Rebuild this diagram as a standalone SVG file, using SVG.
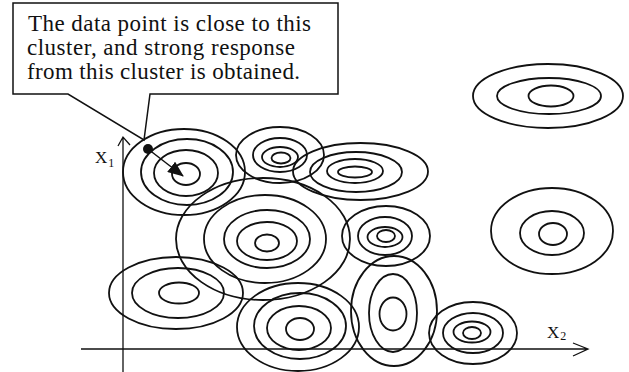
<svg xmlns="http://www.w3.org/2000/svg" width="629" height="372" viewBox="0 0 629 372">
<style>
  .ring { fill: none; stroke: #111; stroke-width: 1.8; }
  .axis { fill: none; stroke: #111; stroke-width: 1.3; }
  .lbl { font-family: "Liberation Serif", "Times New Roman", serif; fill: #111; }
  .call { font-family: "Liberation Serif", "Times New Roman", serif; font-size: 23px; fill: #111; }
</style>
<defs>
  <marker id="tri" viewBox="0 0 16 13" refX="15" refY="6.5" markerWidth="16" markerHeight="13" markerUnits="userSpaceOnUse" orient="auto">
    <path d="M0,0 L16,6.5 L0,13 Z" fill="#111"/>
  </marker>
</defs>
<rect width="629" height="372" fill="#fff"/>

<g id="axes">
  <path class="axis" d="M123,372 V137 M118,146 L123,137 L130,145"/>
  <path class="axis" d="M81,349 H588 M573,343 L588,349 L573,356"/>
  <text class="lbl" x="95" y="163" font-size="17">X<tspan font-size="12" dx="1" dy="4">1</tspan></text>
  <text class="lbl" x="547" y="338" font-size="17">X<tspan font-size="12" dx="1" dy="2">2</tspan></text>
</g>

<g id="clusterA">
  <ellipse class="ring" cx="184" cy="172" rx="61" ry="43"/>
  <ellipse class="ring" cx="187" cy="172" rx="46" ry="33"/>
  <ellipse class="ring" cx="186" cy="173" rx="32" ry="23"/>
  <ellipse class="ring" cx="186" cy="174" rx="14" ry="11"/>
</g>
<g id="clusterB">
  <ellipse class="ring" cx="280" cy="155" rx="44" ry="28"/>
  <ellipse class="ring" cx="280" cy="155" rx="27" ry="17"/>
  <ellipse class="ring" cx="280" cy="157" rx="18" ry="10"/>
  <ellipse class="ring" cx="281" cy="158" rx="9.5" ry="5.5"/>
</g>
<g id="clusterC">
  <ellipse class="ring" cx="360.5" cy="171.5" rx="67.5" ry="28.5"/>
  <ellipse class="ring" cx="356" cy="172" rx="46" ry="20"/>
  <ellipse class="ring" cx="355" cy="171" rx="28" ry="12"/>
  <ellipse class="ring" cx="355" cy="172" rx="17" ry="5.5"/>
</g>
<g id="clusterD">
  <ellipse class="ring" cx="263" cy="239" rx="87" ry="61"/>
  <ellipse class="ring" cx="265" cy="239" rx="61" ry="44"/>
  <ellipse class="ring" cx="267" cy="239" rx="43" ry="29"/>
  <ellipse class="ring" cx="267" cy="241" rx="30" ry="19"/>
  <ellipse class="ring" cx="267" cy="243" rx="12" ry="8.5"/>
</g>
<g id="clusterE">
  <ellipse class="ring" cx="386" cy="236" rx="44" ry="30"/>
  <ellipse class="ring" cx="385" cy="236" rx="27" ry="19"/>
  <ellipse class="ring" cx="385" cy="237" rx="17.5" ry="10"/>
  <ellipse class="ring" cx="386" cy="236" rx="9" ry="6"/>
</g>
<g id="clusterF">
  <ellipse class="ring" cx="176" cy="293" rx="67" ry="36"/>
  <ellipse class="ring" cx="178" cy="293" rx="46" ry="25"/>
  <ellipse class="ring" cx="179" cy="293" rx="20" ry="10.5"/>
</g>
<g id="clusterG">
  <ellipse class="ring" cx="298" cy="327" rx="61" ry="44"/>
  <ellipse class="ring" cx="300" cy="326" rx="46" ry="33"/>
  <ellipse class="ring" cx="299" cy="328" rx="32" ry="22"/>
  <ellipse class="ring" cx="300" cy="329" rx="14" ry="11"/>
</g>
<g id="clusterH">
  <ellipse class="ring" cx="394" cy="311" rx="43" ry="55"/>
  <ellipse class="ring" cx="393" cy="313" rx="24" ry="39"/>
  <ellipse class="ring" cx="393" cy="314" rx="13.5" ry="16.5"/>
</g>
<g id="clusterI">
  <ellipse class="ring" cx="473" cy="333" rx="44" ry="31"/>
  <ellipse class="ring" cx="473" cy="333" rx="30" ry="20"/>
  <ellipse class="ring" cx="472" cy="332" rx="18.5" ry="10.5"/>
  <ellipse class="ring" cx="472" cy="333" rx="9" ry="6"/>
</g>
<g id="clusterJ">
  <ellipse class="ring" cx="552" cy="231" rx="61" ry="43"/>
  <ellipse class="ring" cx="552" cy="233" rx="32" ry="22"/>
  <ellipse class="ring" cx="553" cy="234" rx="14" ry="11"/>
</g>
<g id="clusterK">
  <ellipse class="ring" cx="548" cy="96" rx="75" ry="32"/>
  <ellipse class="ring" cx="549" cy="96" rx="52" ry="18"/>
  <ellipse class="ring" cx="551" cy="96" rx="22.5" ry="10.5"/>
</g>

<g id="callout">
  <path d="M13,3 H338 V94 H150 L144,140 L68,94 H13 Z" fill="#fff" stroke="#111" stroke-width="1.5"/>
  <text class="call" x="28" y="31" textLength="283" lengthAdjust="spacing">The data point is close to this</text>
  <text class="call" x="27" y="55" textLength="268" lengthAdjust="spacing">cluster, and strong response</text>
  <text class="call" x="27" y="79" textLength="273" lengthAdjust="spacing">from this cluster is obtained.</text>
</g>

<g id="datapoint">
  <circle cx="148" cy="149" r="5" fill="#111"/>
</g>

<g id="connectors">
  <line x1="148" y1="149" x2="183" y2="176" stroke="#111" stroke-width="1.5" marker-end="url(#tri)"/>
</g>
</svg>
